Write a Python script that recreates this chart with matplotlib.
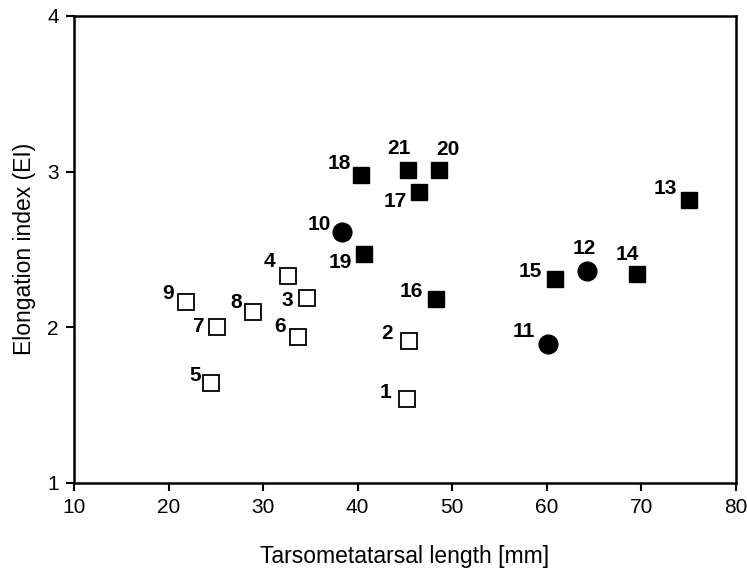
import matplotlib.pyplot as plt

plt.rcParams['font.family'] = ['Liberation Sans', 'DejaVu Sans']

# open squares
open_ids = ['1', '2', '3', '4', '5', '6', '7', '8', '9']
open_x = [45.2, 45.4, 34.6, 32.6, 24.5, 33.7, 25.1, 28.9, 21.9]
open_y = [1.54, 1.91, 2.19, 2.33, 1.64, 1.94, 2.00, 2.10, 2.16]

# filled circles
circ_ids = ['10', '11', '12']
circ_x = [38.3, 60.1, 64.3]
circ_y = [2.61, 1.89, 2.36]

# filled squares
fill_ids = ['13', '14', '15', '16', '17', '18', '19', '20', '21']
fill_x = [75.1, 69.5, 60.9, 48.3, 46.5, 40.4, 40.7, 48.6, 45.3]
fill_y = [2.82, 2.34, 2.31, 2.18, 2.87, 2.98, 2.47, 3.01, 3.01]

# label offsets (pixels, right/up) relative to each marker
offsets = {
    '1': (-21, 6), '2': (-22, 8), '3': (-19, -3), '4': (-18, 14), '5': (-16, 8),
    '6': (-18, 10), '7': (-19, 1), '8': (-16, 9), '9': (-18, 9),
    '10': (-22, 8), '11': (-24, 13), '12': (-3, 23),
    '13': (-24, 11), '14': (-9, 20), '15': (-25, 7), '16': (-25, 8),
    '17': (-24, -10), '18': (-22, 11), '19': (-24, -8), '20': (9, 20), '21': (-9, 21),
}

fig = plt.figure(figsize=(7.47, 5.68), dpi=100)
ax = fig.add_axes([0.099, 0.150, 0.886, 0.822])

ax.plot(open_x, open_y, 's', ms=11, mfc='white', mec='black', mew=1.3, ls='none')
ax.plot(fill_x, fill_y, 's', ms=11.5, color='black', ls='none')
ax.plot(circ_x, circ_y, 'o', ms=13.5, color='black', ls='none')

for ids, xs, ys in [(open_ids, open_x, open_y), (circ_ids, circ_x, circ_y),
                    (fill_ids, fill_x, fill_y)]:
    for i, x, y in zip(ids, xs, ys):
        dx, dy = offsets[i]
        ax.annotate(i, (x, y), xytext=(dx * 0.72, dy * 0.72), textcoords='offset points',
                    ha='center', va='center', fontsize=15, fontweight='bold')

ax.set_xlim(10, 80)
ax.set_ylim(1, 4)
ax.set_xticks(range(10, 81, 10))
ax.set_yticks([1, 2, 3, 4])
ax.tick_params(direction='out', length=6, width=1.5, labelsize=15, pad=5)
for s in ax.spines.values():
    s.set_linewidth(1.8)

ax.set_xlabel('Tarsometatarsal length [mm]', fontsize=16.5, labelpad=20)
ax.set_ylabel('Elongation index (EI)', fontsize=16.5, labelpad=8)

fig.savefig('out.png', dpi=100)
